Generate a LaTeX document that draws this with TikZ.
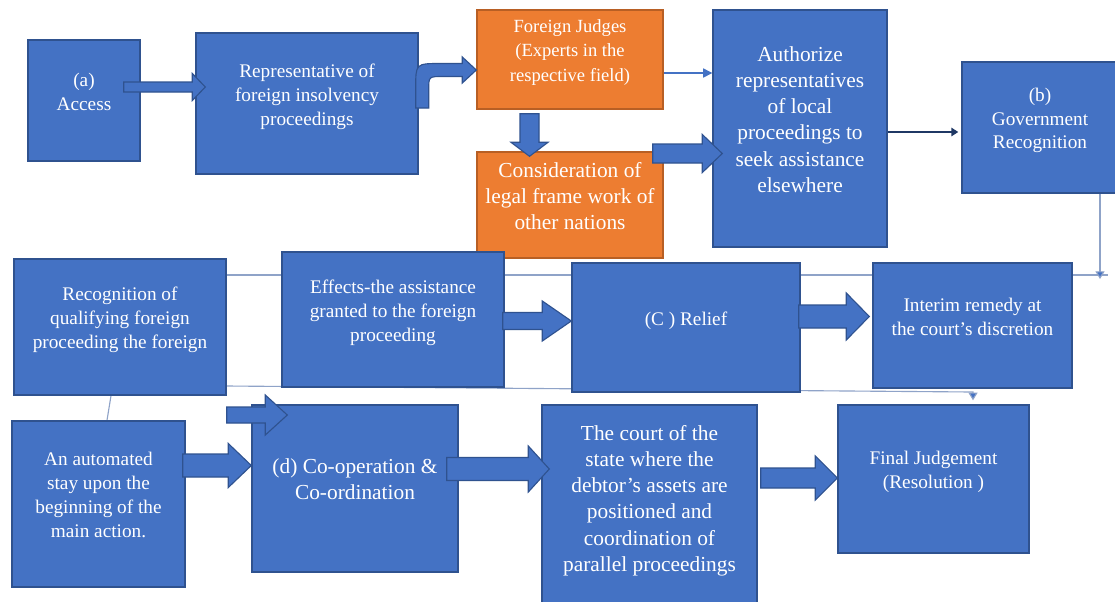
\documentclass[tikz,border=0pt]{standalone}
\usepackage{fontspec}
\setmainfont{Liberation Serif}
\usetikzlibrary{arrows.meta,calc,backgrounds}
\definecolor{bx}{HTML}{4472C4}
\definecolor{bd}{HTML}{2F528F}
\definecolor{og}{HTML}{ED7D31}
\definecolor{od}{HTML}{B85F24}
\definecolor{ln}{HTML}{8FA3C8}
\definecolor{nv}{HTML}{1F3864}

\tikzset{
  bluebox/.style={draw=bd, fill=bx, line width=1pt, text=white, align=center,
    inner sep=0pt, text depth=13pt, font=\fontsize{13.7}{17}\selectfont},
  orangebox/.style={bluebox, draw=od, fill=og},
  bigtext/.style={font=\fontsize{15.2}{18.6}\selectfont},
  wh/.style 2 args={minimum width=#1*0.025cm, minimum height=#2*0.025cm},
  blockarrow/.style={draw=bd, fill=bx, line width=0.8pt, line join=miter},
  thinline/.style={draw=ln, line width=0.8pt},
  thintip/.style={-{Triangle[width=6.5pt, length=5.5pt, fill=bx]}},
}

% horizontal block arrow: tail, tip, shaft half width, head half width, head length
\newcommand{\fatarrow}[5]{%
  \coordinate (fs) at (#1);
  \coordinate (ft) at (#2);
  \draw[blockarrow] ($(fs)+(0,-#3)$) -- ($(ft)+(-#5,-#3)$) -- ($(ft)+(-#5,-#4)$) -- (ft)
    -- ($(ft)+(-#5,#4)$) -- ($(ft)+(-#5,#3)$) -- ($(fs)+(0,#3)$) -- cycle;}

\begin{document}
\begin{tikzpicture}[x=0.025cm, y=-0.025cm]

  \useasboundingbox (0,0) rectangle (1115,601);
  \clip (0,0) rectangle (1115,601);

  \node[bluebox, wh={112}{121}] (access) at (84,100.5) {(a)\\Access};
  \node[bluebox, wh={222}{141}] (rep) at (307,103.5) {Representative of\\foreign insolvency\\proceedings};
  \node[orangebox, wh={186}{99}, font=\fontsize{13.2}{17.5}\selectfont] (judges) at (570,59.5) {Foreign Judges\\(Experts in the\\respective field)};
  \node[orangebox, bigtext, wh={186}{106}] (legal) at (570,205) {Consideration of\\legal frame work of\\other nations};
  \node[bluebox, bigtext, wh={174}{237}] (authorize) at (800,128.5) {Authorize\\representatives\\of local\\proceedings to\\seek assistance\\elsewhere};
  \node[bluebox, wh={156}{131}] (govt) at (1040,127.5) {(b)\\Government\\Recognition};

  \node[bluebox, wh={212}{136}] (recog) at (120,327) {Recognition of\\qualifying foreign\\proceeding the foreign};
  \node[bluebox, wh={222}{135}] (effects) at (393,319.5) {Effects-the assistance\\granted to the foreign\\proceeding};
  \node[bluebox, wh={228}{129}] (relief) at (686,327.5) {(C ) Relief};
  \node[bluebox, wh={199}{125}] (interim) at (972.5,325.5) {Interim remedy at\\the court's discretion};

  \node[bluebox, wh={173}{166}] (stay) at (98.5,504) {An automated\\stay upon the\\beginning of the\\main action.};
  \node[bluebox, bigtext, wh={206}{167}] (coop) at (355,488.5) {(d) Co-operation \&\\Co-ordination};
  \node[bluebox, bigtext, wh={215}{205}] (court) at (649.5,507.5) {The court of the\\state where the\\debtor's assets are\\positioned and\\coordination of\\parallel proceedings};
  \node[bluebox, wh={191}{148}] (final) at (933.5,479) {Final Judgement\\(Resolution )};

  \coordinate (lineend) at (1108,275);
  \coordinate (govdrop) at (1100,279);
  \coordinate (finaldrop) at ($(final.north -| 973,0)+(0,-4)$);

  \begin{scope}[on background layer]
    \fill[white] (0,0) rectangle (1115,601);
    \draw[thinline] (recog.east |- lineend) -- (lineend);
    \draw[thinline, thintip] (govt.south -| govdrop) -- (govdrop);
    \draw[thinline, thintip] (recog.east |- 0,386) -- (973,392) -- (finaldrop);
    \draw[thinline] ($(recog.south)+(-9,0)$) -- ($(stay.north)+(8.5,0)$);
  \end{scope}

  \draw[draw=bx, line width=0.9pt, -{Triangle[width=6.5pt, length=6.5pt]}] (judges.east |- 0,73) -- (authorize.west |- 0,73);
  \draw[draw=nv, line width=2pt, -{Triangle[width=6pt, length=5pt]}] (authorize.east |- 0,132) -- ($(govt.west |- 0,132)+(-3,0)$);

  \fatarrow{$(access.east |- 0,87)+(-17,0)$}{$(rep.west |- 0,87)+(10,0)$}{5}{13.5}{13}
  \fatarrow{$(legal.east |- 0,153.5)+(-11,0)$}{$(authorize.west |- 0,153.5)+(10,0)$}{9.5}{19}{20}
  \fatarrow{$(recog.east |- 0,415)$}{$(coop.west |- 0,415)+(36,0)$}{8}{20}{22}
  \fatarrow{$(stay.east |- 0,465.5)+(-3,0)$}{$(coop.west |- 0,465.5)$}{11.5}{22}{23}
  \fatarrow{$(effects.east |- 0,321)+(-2,0)$}{$(relief.west |- 0,321)$}{8.5}{20}{29}
  \fatarrow{$(relief.east |- 0,316.5)+(-2,0)$}{$(interim.west |- 0,316.5)+(-3,0)$}{11.5}{23.5}{23}
  \fatarrow{$(coop.east |- 0,469)+(-12,0)$}{$(court.west |- 0,469)+(8,0)$}{11.5}{23}{21}
  \fatarrow{$(court.east |- 0,478)+(3,0)$}{$(final.west |- 0,478)$}{10}{22}{22}

  \coordinate (ds) at ($(judges.south)+(-40.5,4)$);
  \coordinate (dt) at ($(legal.north)+(-40.5,5)$);
  \draw[blockarrow] ($(ds)+(-9.5,0)$) -- ($(dt)+(-9.5,-14)$) -- ($(dt)+(-18.5,-14)$) -- (dt)
    -- ($(dt)+(18.5,-14)$) -- ($(dt)+(9.5,-14)$) -- ($(ds)+(9.5,0)$) -- cycle;

  \coordinate (bs) at ($(rep.east)+(-3,4.5)$);
  \coordinate (bt) at ($(judges.west)+(0,10.5)$);
  \draw[blockarrow] (bs) -- ($(bs)+(0,-20)$) .. controls ($(bs)+(0,-44.5)$) .. ($(bs)+(25,-44.5)$)
    -- ($(bt)+(-14,-6.5)$) -- ($(bt)+(-14,-13)$) -- (bt) -- ($(bt)+(-14,13)$) -- ($(bt)+(-14,6.5)$)
    -- ($(bs)+(27,-31.5)$) .. controls ($(bs)+(13,-31.5)$) .. ($(bs)+(13,-18)$) -- ($(bs)+(13,0)$) -- cycle;

\end{tikzpicture}
\end{document}
